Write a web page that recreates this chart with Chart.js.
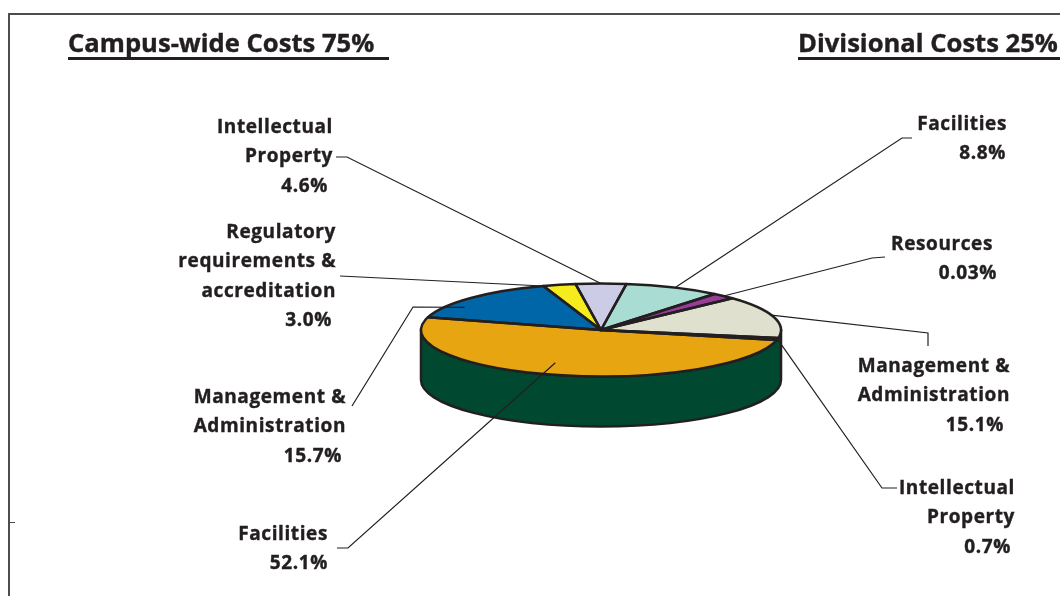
<!DOCTYPE html>
<html>
<head>
<meta charset="utf-8">
<script src="https://cdn.jsdelivr.net/npm/chart.js@4.4.0/dist/chart.umd.min.js"></script>
<style>
  html, body { margin: 0; padding: 0; background: #fff; }
  #wrap { position: relative; width: 1060px; height: 596px; overflow: hidden;
          font-family: "Open Sans", Lato, sans-serif; font-weight: 700; color: #231f20;
          font-variant-ligatures: none; }
  #chart { position: absolute; left: 0; top: 0; }
  .rule { position: absolute; background: #4d4d4d; }
  .title { position: absolute; font-size: 25.6px; line-height: 26px; white-space: pre;
           border-bottom: 3px solid #231f20; padding-bottom: 1px; -webkit-text-stroke: 0.4px #231f20; }
  .line { position: absolute; font-size: 19px; line-height: 20px; white-space: nowrap; text-align: right;
          letter-spacing: 0.6px; -webkit-text-stroke: 0.4px #231f20; }
</style>
</head>
<body>
<div id="wrap">
  <canvas id="chart" width="1060" height="596"></canvas>
  <div class="rule" style="left:8px;top:13px;width:1052px;height:2px"></div>
  <div class="rule" style="left:8px;top:13px;width:2px;height:583px"></div>
  <div class="rule" style="left:9px;top:522px;width:6px;height:1px"></div>
  <div class="title" style="left:68px;top:30px;width:321px">Campus-wide Costs 75% </div>
  <div class="title" style="left:798px;top:30px;width:270px">Divisional Costs 25%</div>
</div>
<script>
(function() {
    'use strict';

    // slices in clockwise order, campus-wide first, then divisional
    var categories = [
        'Facilities',
        'Management &\nAdministration',
        'Regulatory\nrequirements &\naccreditation',
        'Intellectual\nProperty',
        'Facilities',
        'Resources',
        'Management &\nAdministration',
        'Intellectual\nProperty'
    ];
    var shareLabels = ['52.1%', '15.7%', '3.0%', '4.6%', '8.8%', '0.03%', '15.1%', '0.7%'];
    // slice sizes as drawn (the resources wedge is drawn wider than its printed 0.03%)
    var sliceValues = [52.1, 15.7, 3.0, 4.6, 8.8, 2.2, 15.1, 0.7];
    var sliceColors = ['#e8a512', '#0066a8', '#f4ec1c', '#cdcce6', '#a9dcd3', '#993d99', '#e0e0cf', '#5ec5a7'];

    var SIDE = '#00482f';
    var INK = '#231f20';
    var TILT = 0.258;
    var DEPTH = 50;
    var LINE_STEP = 29.3;

    // label placement: right edge, first baseline, right edge of the % line,
    // leader points from the label, and where the leader meets the slice [angle frac, radius frac]
    var labelLayout = [
        { x: 328, y: 540, px: 328, path: [[337, 548], [348, 548]], at: [0.53, 0.75] },
        { x: 346, y: 403, px: 342, path: [[352, 406], [413, 307]], at: [0.3, 0.9] },
        { x: 336, y: 238, px: 332, path: [[340, 276]], at: [0, 1] },
        { x: 333, y: 133, px: 328, path: [[336, 157], [347, 157]], at: [0.5, 1] },
        { x: 1007, y: 130, px: 1006, path: [[912, 138], [902, 138]], at: [0.52, 1] },
        { x: 993, y: 250, px: 997, path: [[885, 257], [872, 258]], at: [0.5, 1] },
        { x: 1010, y: 372, px: 1004, path: [[928, 346], [928, 333]], at: [0.46, 1] },
        { x: 1015, y: 494, px: 1011, path: [[897, 488], [882, 488]], at: [0.5, 1] }
    ];

    function addLine(text, right, baseline) {
        var d = document.createElement('div');
        d.className = 'line';
        d.textContent = text;
        d.style.right = (1060 - right) + 'px';
        d.style.top = (baseline - 17) + 'px';
        document.getElementById('wrap').appendChild(d);
    }

    function buildLabels() {
        categories.forEach(function(name, i) {
            var l = labelLayout[i];
            var lines = name.split('\n');
            lines.forEach(function(t, k) { addLine(t, l.x, l.y + k * LINE_STEP); });
            addLine(shareLabels[i], l.px, l.y + lines.length * LINE_STEP);
        });
    }

    function anchorPoint(a, at) {
        var t = a.startAngle + at[0] * (a.endAngle - a.startAngle);
        var r = a.outerRadius * at[1];
        return [a.x + r * Math.cos(t), a.y + r * TILT * Math.sin(t)];
    }

    var pie3d = {
        id: 'pie3d',
        beforeDatasetsDraw: function(chart) {
            var ctx = chart.ctx;
            var a = chart.getDatasetMeta(0).data[0];
            var cx = a.x, cy = a.y, R = a.outerRadius, ry = R * TILT;
            ctx.save();
            ctx.beginPath();
            ctx.ellipse(cx, cy, R, ry, 0, 0, Math.PI, false);
            ctx.ellipse(cx, cy + DEPTH, R, ry, 0, Math.PI, 0, true);
            ctx.closePath();
            ctx.fillStyle = SIDE;
            ctx.fill();
            ctx.lineWidth = 2.5;
            ctx.lineJoin = 'round';
            ctx.strokeStyle = INK;
            ctx.stroke();
            ctx.restore();
            // squash the top face
            ctx.save();
            ctx.translate(cx, cy);
            ctx.scale(1, TILT);
            ctx.translate(-cx, -cy);
        },
        afterDatasetsDraw: function(chart) {
            var ctx = chart.ctx;
            ctx.restore();
            var arcs = chart.getDatasetMeta(0).data;
            ctx.save();
            ctx.lineWidth = 2.5;
            ctx.lineJoin = 'round';
            ctx.strokeStyle = INK;
            arcs.forEach(function(a) {
                ctx.beginPath();
                ctx.moveTo(a.x, a.y);
                ctx.ellipse(a.x, a.y, a.outerRadius, a.outerRadius * TILT, 0, a.startAngle, a.endAngle, false);
                ctx.closePath();
                ctx.stroke();
            });
            ctx.lineWidth = 1.2;
            ctx.lineJoin = 'miter';
            labelLayout.forEach(function(l, i) {
                var end = anchorPoint(arcs[i], l.at);
                ctx.beginPath();
                ctx.moveTo(l.path[0][0], l.path[0][1]);
                for (var k = 1; k < l.path.length; k++) ctx.lineTo(l.path[k][0], l.path[k][1]);
                ctx.lineTo(end[0], end[1]);
                ctx.stroke();
            });
            ctx.restore();
        }
    };

    function initChart() {
        var canvas = document.getElementById('chart');
        new Chart(canvas, {
            type: 'pie',
            data: {
                labels: categories,
                datasets: [{
                    data: sliceValues,
                    backgroundColor: sliceColors,
                    borderWidth: 0,
                    hoverOffset: 0,
                    radius: 180,
                    clip: false
                }]
            },
            options: {
                responsive: false,
                animation: false,
                rotation: 102.5,
                layout: { padding: { left: 241, right: 99, top: 150, bottom: 86 } },
                plugins: { legend: { display: false }, tooltip: { enabled: false } },
                events: []
            },
            plugins: [pie3d]
        });
        buildLabels();
    }

    if (document.readyState === 'loading') {
        document.addEventListener('DOMContentLoaded', initChart);
    } else {
        initChart();
    }
})();
</script>
</body>
</html>
